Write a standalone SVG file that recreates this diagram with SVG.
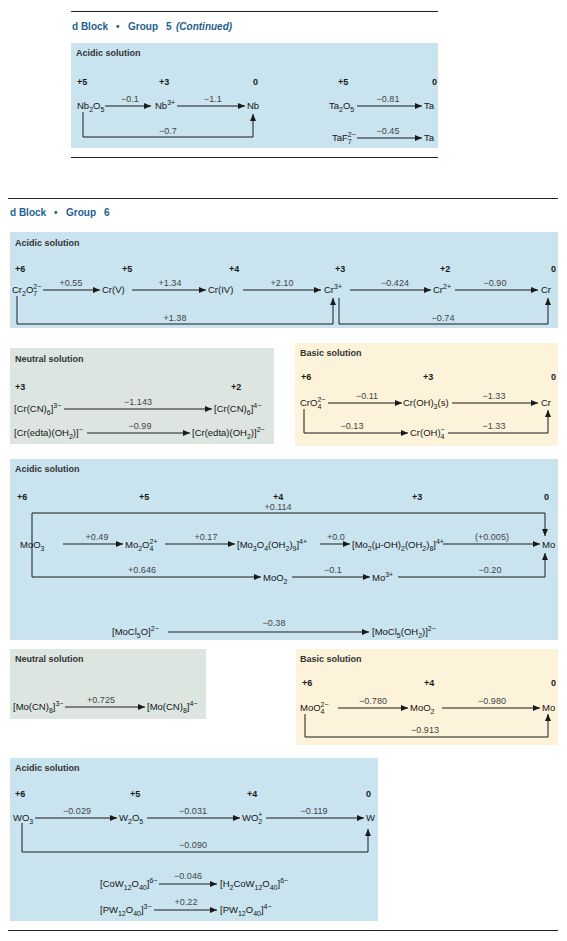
<svg xmlns="http://www.w3.org/2000/svg" width="567" height="941" viewBox="0 0 567 941">
<defs>
<marker id="ah" markerWidth="7" markerHeight="6" refX="7" refY="3" orient="auto" markerUnits="userSpaceOnUse"><path d="M0,0 L7,3 L0,6 Z" fill="#1a1a1a"/></marker>
</defs>
<style>
.rule{stroke:#222;stroke-width:1}
.hd{font-family:"Liberation Sans",Arial,sans-serif;font-size:10px;font-weight:bold;fill:#1d5f8f}
.sec{font-family:"Liberation Sans",Arial,sans-serif;font-size:9px;font-weight:bold;fill:#333}
.ox{font-family:"Liberation Sans",Arial,sans-serif;font-size:9px;font-weight:bold;fill:#1a1a1a}
.sp{font-family:"Liberation Sans",Arial,sans-serif;font-size:9.5px;fill:#141414}
.v{font-family:"Liberation Sans",Arial,sans-serif;font-size:9px;fill:#444;text-anchor:middle}
.b{font-size:7px}
.c line,.c path{stroke:#1a1a1a;stroke-width:1;fill:none;marker-end:url(#ah)}
.acid{fill:#c9e3ef}
.neut{fill:#dde5e1}
.basic{fill:#fdf2da}
</style>

<!-- ===== backgrounds and rules ===== -->
<g id="backgrounds">
<line class="rule" x1="71" y1="11.5" x2="438" y2="11.5"/>
<rect class="acid" x="71" y="43" width="367" height="105"/>
<line class="rule" x1="71" y1="157.5" x2="438" y2="157.5"/>
<line class="rule" x1="8" y1="198.5" x2="558" y2="198.5"/>
<rect class="acid" x="10" y="232" width="548" height="96"/>
<rect class="neut" x="10" y="348" width="264" height="96"/>
<rect class="basic" x="295" y="343" width="263" height="103"/>
<rect class="acid" x="10" y="459" width="548" height="181"/>
<rect class="neut" x="10" y="649" width="196" height="70"/>
<rect class="basic" x="296" y="649" width="262" height="96"/>
<rect class="acid" x="10" y="758" width="368" height="163"/>
<line class="rule" x1="8" y1="930.5" x2="558" y2="930.5"/>
</g>

<!-- ===== headings ===== -->
<text class="hd" y="30"><tspan x="72">d Block</tspan><tspan x="116">•</tspan><tspan x="128">Group</tspan><tspan x="166">5</tspan><tspan x="176" font-style="italic">(Continued)</tspan></text>
<text class="hd" y="216"><tspan x="10">d Block</tspan><tspan x="54">•</tspan><tspan x="66">Group</tspan><tspan x="104">6</tspan></text>
<text class="sec" x="76" y="56">Acidic solution</text>
<text class="sec" x="15" y="246">Acidic solution</text>
<text class="sec" x="15" y="362">Neutral solution</text>
<text class="sec" x="300" y="356">Basic solution</text>
<text class="sec" x="15" y="472">Acidic solution</text>
<text class="sec" x="15" y="662">Neutral solution</text>
<text class="sec" x="300" y="662">Basic solution</text>
<text class="sec" x="15" y="771">Acidic solution</text>

<!-- ===== oxidation states ===== -->
<g class="ox">
<text x="77" y="85">+5</text><text x="159" y="85">+3</text><text x="253" y="85">0</text><text x="338" y="85">+5</text><text x="432" y="85">0</text>
<text x="15" y="272">+6</text><text x="122" y="272">+5</text><text x="229" y="272">+4</text><text x="335" y="272">+3</text><text x="440" y="272">+2</text><text x="551" y="272">0</text>
<text x="15" y="390">+3</text><text x="231" y="390">+2</text>
<text x="301" y="380">+6</text><text x="423" y="380">+3</text><text x="551" y="380">0</text>
<text x="17" y="500">+6</text><text x="139" y="500">+5</text><text x="273" y="500">+4</text><text x="412" y="500">+3</text><text x="544" y="500">0</text>
<text x="302" y="686">+6</text><text x="424" y="686">+4</text><text x="551" y="686">0</text>
<text x="15" y="797">+6</text><text x="130" y="797">+5</text><text x="247" y="797">+4</text><text x="366" y="797">0</text>
</g>

<!-- ===== connectors ===== -->
<g class="c" id="connectors">
<line x1="105" y1="106" x2="151" y2="106"/>
<line x1="177" y1="106" x2="245" y2="106"/>
<path d="M83,112 V137 H253 V114"/>
<line x1="357" y1="106" x2="422" y2="106"/>
<line x1="357" y1="138" x2="422" y2="138"/>

<line x1="43" y1="290" x2="100" y2="290"/>
<line x1="132" y1="290" x2="206" y2="290"/>
<line x1="243" y1="290" x2="321" y2="290"/>
<line x1="350" y1="290" x2="431" y2="290"/>
<line x1="455" y1="290" x2="538" y2="290"/>
<path d="M17,296 V324 H333 V298"/>
<path d="M339,298 V324 H548 V298"/>

<line x1="64" y1="409" x2="212" y2="409"/>
<line x1="87" y1="433" x2="190" y2="433"/>

<line x1="328" y1="403" x2="402" y2="403"/>
<line x1="452" y1="403" x2="538" y2="403"/>
<path d="M304,409 V433 H408"/>
<path d="M448,433 H548 V410"/>

<path d="M32,513 H545 V536"/>
<path d="M32,513 V577 H261"/>
<line x1="63" y1="544" x2="123" y2="544"/>
<line x1="165" y1="544" x2="235" y2="544"/>
<line x1="320" y1="544" x2="350" y2="544"/>
<line x1="443" y1="544" x2="540" y2="544"/>
<line x1="292" y1="577" x2="370" y2="577"/>
<path d="M398,577 H545 V553"/>
<line x1="168" y1="632" x2="369" y2="632"/>

<line x1="65" y1="707" x2="145" y2="707"/>

<line x1="338" y1="708" x2="408" y2="708"/>
<line x1="442" y1="708" x2="540" y2="708"/>
<path d="M305,714 V737 H548 V714"/>

<line x1="35" y1="818" x2="117" y2="818"/>
<line x1="147" y1="818" x2="240" y2="818"/>
<line x1="266" y1="818" x2="364" y2="818"/>
<path d="M22,823 V852 H368 V829"/>
<line x1="159" y1="884" x2="217" y2="884"/>
<line x1="154" y1="910" x2="217" y2="910"/>
</g>

<!-- ===== nodes ===== -->
<g id="n-Nb2O5"><text class="sp" x="77" y="109">Nb<tspan class="b" dy="2.5">2</tspan><tspan dy="-2.5">O</tspan><tspan class="b" dy="2.5">5</tspan></text></g>
<g id="n-Nb3"><text class="sp" x="155" y="109">Nb<tspan class="b" dy="-4">3+</tspan></text></g>
<g id="n-Nb"><text class="sp" x="247" y="109">Nb</text></g>
<g id="n-Ta2O5"><text class="sp" x="329" y="109">Ta<tspan class="b" dy="2.5">2</tspan><tspan dy="-2.5">O</tspan><tspan class="b" dy="2.5">5</tspan></text></g>
<g id="n-Ta-1"><text class="sp" x="424" y="109">Ta</text></g>
<g id="n-TaF7"><text class="sp" x="332" y="141">TaF<tspan class="b" dy="-4">2−</tspan><tspan class="b" dx="-8" dy="6.5">7</tspan></text></g>
<g id="n-Ta-2"><text class="sp" x="424" y="141">Ta</text></g>

<g id="n-Cr2O7"><text class="sp" x="12" y="293">Cr<tspan class="b" dy="2.5">2</tspan><tspan dy="-2.5">O</tspan><tspan class="b" dy="-4">2−</tspan><tspan class="b" dx="-8" dy="6.5">7</tspan></text></g>
<g id="n-CrV"><text class="sp" x="102" y="293">Cr(V)</text></g>
<g id="n-CrIV"><text class="sp" x="208" y="293">Cr(IV)</text></g>
<g id="n-Cr3"><text class="sp" x="324" y="293">Cr<tspan class="b" dy="-4">3+</tspan></text></g>
<g id="n-Cr2"><text class="sp" x="433" y="293">Cr<tspan class="b" dy="-4">2+</tspan></text></g>
<g id="n-Cr-a"><text class="sp" x="541" y="293">Cr</text></g>

<g id="n-CrCN6-3"><text class="sp" x="14" y="412">[Cr(CN)<tspan class="b" dy="2.5">6</tspan><tspan dy="-2.5">]</tspan><tspan class="b" dy="-4">3−</tspan></text></g>
<g id="n-CrCN6-4"><text class="sp" x="214" y="412">[Cr(CN)<tspan class="b" dy="2.5">6</tspan><tspan dy="-2.5">]</tspan><tspan class="b" dy="-4">4−</tspan></text></g>
<g id="n-Credta-1"><text class="sp" x="14" y="436">[Cr(edta)(OH<tspan class="b" dy="2.5">2</tspan><tspan dy="-2.5">)]</tspan><tspan class="b" dy="-4">−</tspan></text></g>
<g id="n-Credta-2"><text class="sp" x="192" y="436">[Cr(edta)(OH<tspan class="b" dy="2.5">2</tspan><tspan dy="-2.5">)]</tspan><tspan class="b" dy="-4">2−</tspan></text></g>

<g id="n-CrO4"><text class="sp" x="300" y="406">CrO<tspan class="b" dy="-4">2−</tspan><tspan class="b" dx="-8" dy="6.5">4</tspan></text></g>
<g id="n-CrOH3"><text class="sp" x="403" y="406">Cr(OH)<tspan class="b" dy="2.5">3</tspan><tspan dy="-2.5">(s)</tspan></text></g>
<g id="n-Cr-b"><text class="sp" x="541" y="406">Cr</text></g>
<g id="n-CrOH4"><text class="sp" x="410" y="436">Cr(OH)<tspan class="b" dy="-4">−</tspan><tspan class="b" dx="-4.1" dy="6.5">4</tspan></text></g>

<g id="n-MoO3"><text class="sp" x="20" y="548">MoO<tspan class="b" dy="2.5">3</tspan></text></g>
<g id="n-Mo2O4"><text class="sp" x="125" y="548">Mo<tspan class="b" dy="2.5">2</tspan><tspan dy="-2.5">O</tspan><tspan class="b" dy="-4">2+</tspan><tspan class="b" dx="-8" dy="6.5">4</tspan></text></g>
<g id="n-Mo3O4"><text class="sp" x="237" y="548">[Mo<tspan class="b" dy="2.5">3</tspan><tspan dy="-2.5">O</tspan><tspan class="b" dy="2.5">4</tspan><tspan dy="-2.5">(OH</tspan><tspan class="b" dy="2.5">2</tspan><tspan dy="-2.5">)</tspan><tspan class="b" dy="2.5">9</tspan><tspan dy="-2.5">]</tspan><tspan class="b" dy="-4">4+</tspan></text></g>
<g id="n-Mo2OH2"><text class="sp" x="352" y="548">[Mo<tspan class="b" dy="2.5">2</tspan><tspan dy="-2.5">(μ-OH)</tspan><tspan class="b" dy="2.5">2</tspan><tspan dy="-2.5">(OH</tspan><tspan class="b" dy="2.5">2</tspan><tspan dy="-2.5">)</tspan><tspan class="b" dy="2.5">8</tspan><tspan dy="-2.5">]</tspan><tspan class="b" dy="-4">4+</tspan></text></g>
<g id="n-Mo-a"><text class="sp" x="542" y="548">Mo</text></g>
<g id="n-MoO2-a"><text class="sp" x="263" y="581">MoO<tspan class="b" dy="2.5">2</tspan></text></g>
<g id="n-Mo3"><text class="sp" x="372" y="581">Mo<tspan class="b" dy="-4">3+</tspan></text></g>
<g id="n-MoCl5O"><text class="sp" x="112" y="635">[MoCl<tspan class="b" dy="2.5">5</tspan><tspan dy="-2.5">O]</tspan><tspan class="b" dy="-4">2−</tspan></text></g>
<g id="n-MoCl5OH2"><text class="sp" x="372" y="635">[MoCl<tspan class="b" dy="2.5">5</tspan><tspan dy="-2.5">(OH</tspan><tspan class="b" dy="2.5">2</tspan><tspan dy="-2.5">)]</tspan><tspan class="b" dy="-4">2−</tspan></text></g>

<g id="n-MoCN8-3"><text class="sp" x="13" y="710">[Mo(CN)<tspan class="b" dy="2.5">8</tspan><tspan dy="-2.5">]</tspan><tspan class="b" dy="-4">3−</tspan></text></g>
<g id="n-MoCN8-4"><text class="sp" x="147" y="710">[Mo(CN)<tspan class="b" dy="2.5">8</tspan><tspan dy="-2.5">]</tspan><tspan class="b" dy="-4">4−</tspan></text></g>

<g id="n-MoO4"><text class="sp" x="300" y="711">MoO<tspan class="b" dy="-4">2−</tspan><tspan class="b" dx="-8" dy="6.5">4</tspan></text></g>
<g id="n-MoO2-b"><text class="sp" x="410" y="711">MoO<tspan class="b" dy="2.5">2</tspan></text></g>
<g id="n-Mo-b"><text class="sp" x="542" y="711">Mo</text></g>

<g id="n-WO3"><text class="sp" x="13" y="821">WO<tspan class="b" dy="2.5">3</tspan></text></g>
<g id="n-W2O5"><text class="sp" x="119" y="821">W<tspan class="b" dy="2.5">2</tspan><tspan dy="-2.5">O</tspan><tspan class="b" dy="2.5">5</tspan></text></g>
<g id="n-WO2"><text class="sp" x="242" y="821">WO<tspan class="b" dy="-4">+</tspan><tspan class="b" dx="-4.1" dy="6.5">2</tspan></text></g>
<g id="n-W"><text class="sp" x="366" y="821">W</text></g>
<g id="n-CoW12"><text class="sp" x="100" y="887">[CoW<tspan class="b" dy="2.5">12</tspan><tspan dy="-2.5">O</tspan><tspan class="b" dy="2.5">40</tspan><tspan dy="-2.5">]</tspan><tspan class="b" dy="-4">6−</tspan></text></g>
<g id="n-H2CoW12"><text class="sp" x="220" y="887">[H<tspan class="b" dy="2.5">2</tspan><tspan dy="-2.5">CoW</tspan><tspan class="b" dy="2.5">12</tspan><tspan dy="-2.5">O</tspan><tspan class="b" dy="2.5">40</tspan><tspan dy="-2.5">]</tspan><tspan class="b" dy="-4">6−</tspan></text></g>
<g id="n-PW12-3"><text class="sp" x="100" y="913">[PW<tspan class="b" dy="2.5">12</tspan><tspan dy="-2.5">O</tspan><tspan class="b" dy="2.5">40</tspan><tspan dy="-2.5">]</tspan><tspan class="b" dy="-4">3−</tspan></text></g>
<g id="n-PW12-4"><text class="sp" x="220" y="913">[PW<tspan class="b" dy="2.5">12</tspan><tspan dy="-2.5">O</tspan><tspan class="b" dy="2.5">40</tspan><tspan dy="-2.5">]</tspan><tspan class="b" dy="-4">4−</tspan></text></g>

<!-- ===== connector labels ===== -->
<g class="v" id="edge-labels">
<text x="130" y="102">−0.1</text>
<text x="213" y="102">−1.1</text>
<text x="168" y="134">−0.7</text>
<text x="388" y="102">−0.81</text>
<text x="388" y="134">−0.45</text>

<text x="71" y="286">+0.55</text>
<text x="170" y="286">+1.34</text>
<text x="282" y="286">+2.10</text>
<text x="395" y="286">−0.424</text>
<text x="495" y="286">−0.90</text>
<text x="175" y="321">+1.38</text>
<text x="443" y="321">−0.74</text>

<text x="138" y="405">−1.143</text>
<text x="140" y="429">−0.99</text>

<text x="367" y="399">−0.11</text>
<text x="494" y="399">−1.33</text>
<text x="352" y="429">−0.13</text>
<text x="494" y="429">−1.33</text>

<text x="278" y="510">+0.114</text>
<text x="97" y="540">+0.49</text>
<text x="206" y="540">+0.17</text>
<text x="336" y="540">+0.0</text>
<text x="492" y="540">(+0.005)</text>
<text x="142" y="573">+0.646</text>
<text x="333" y="573">−0.1</text>
<text x="490" y="573">−0.20</text>
<text x="274" y="626">−0.38</text>

<text x="101" y="703">+0.725</text>
<text x="373" y="704">−0.780</text>
<text x="492" y="704">−0.980</text>
<text x="425" y="733">−0.913</text>

<text x="77" y="814">−0.029</text>
<text x="193" y="814">−0.031</text>
<text x="314" y="814">−0.119</text>
<text x="193" y="848">−0.090</text>
<text x="188" y="879">−0.046</text>
<text x="186" y="905">+0.22</text>
</g>
</svg>
